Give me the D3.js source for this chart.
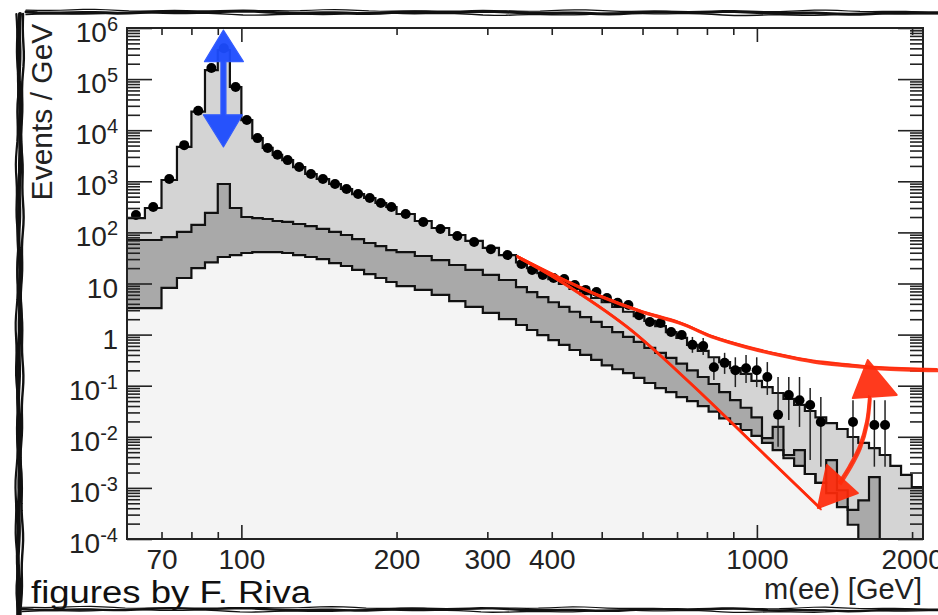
<!DOCTYPE html>
<html>
<head>
<meta charset="utf-8">
<script src="https://cdn.jsdelivr.net/npm/d3@7"></script>
<style>
  body { margin: 0; background: #fff; }
  svg { display: block; font-family: "Liberation Sans", Arial, Helvetica, sans-serif; }
</style>
</head>
<body>
<svg id="chart" width="938" height="615"></svg>
<script>
// m(ee) bin edges [GeV]
const binEdges = [60,65,70,75,80,85,90,95,100,105,110,115,120,
  126,133,140,148,156,164,173,182,191,200,
  217,234,253,272,294,316,341,
  358,375,394,413,433,454,477,500,524,550,577,605,635,666,698,732,768,806,845,887,
  930,976,1023,1073,1126,1181,1239,1299,1363,1430,1500,1573,1650,1731,1815,1904,1997,2100];

// stacked backgrounds, Events / GeV (top of each layer)
const totalBkg = [191,300,1060,4700,23000,150000,370000,70000,15800,7000,4500,3300,
  2600,1900,1390,1110,885,707,563,471,376,314,
  229,167,122,89,68,50,36,
  26,20,16,12.2,9.8,7.8,6.2,5.2,4.3,3.5,2.8,2.3,1.85,1.47,1.12,0.86,0.63,0.48,0.36,0.29,
  0.22,0.17,0.124,0.094,0.072,0.055,0.042,0.032,0.024,0.0186,0.0142,0.0099,0.0076,0.0060,0.0044,0.0027,0.0018,0.00104];
const midBkg = [71,71,81,102,140,240,885,300,200,191,183,167,
  160,146,133,117,102,89,74,62,54,45,
  41,34.5,28.8,23,18.4,14.7,11.7,
  8.5,6.8,5.4,4.3,3.5,2.8,2.2,1.77,1.41,1.12,0.90,0.72,0.55,0.44,0.35,0.27,0.20,0.148,0.108,0.075,
  0.052,0.037,0.024,0.0094,0.0156,0.0044,0.0055,0.00187,0.00125,0.0035,0.0009,0.00037,0.00057,0.00163,0,0,0,0];
const lowBkg = [3.3,3.3,8.2,12.8,20,26,33,36,39.5,41,41,41,
  39.5,36,33,30,25,22,18.4,15.3,12.8,10.7,
  8.9,7.5,6.0,4.5,3.5,2.65,2.0,
  1.54,1.23,0.98,0.78,0.63,0.50,0.40,0.32,0.25,0.21,0.177,0.142,0.113,0.090,0.075,0.060,0.050,0.040,0.031,0.023,
  0.0178,0.0136,0.0104,0.0076,0.0055,0.0038,0.0027,0.00187,0.00125,0.00079,0.00042,0.00019,0,0,0,0,0,0];

// observed data
const dataVals = [219,314,1110,5100,24000,165000,400000,70000,15800,7000,4500,3300,
  2600,1900,1390,1110,885,707,563,471,376,314,
  229,160,117,85,65,47,36,
  24,18.4,14.7,12.8,12.2,9.3,7.5,6.8,5.2,4.2,3.8,2.4,1.77,1.69,1.12,0.98,0.63,0.60,0.23,0.28,
  0.20,0.22,0.20,0.148,0.027,0.066,0.052,0.042,0.0195,null,null,0.0195,null,0.017,0.017,null,null,null];
// visible error bars: bin index, upper and lower end
const errIdx = [45,46,47,48,49,50,51,52,53,54,55,56,57,60,62,63];
const errHi  = [0.90,0.86,0.36,0.44,0.36,0.40,0.36,0.29,0.148,0.148,0.148,0.090,0.060,0.052,0.052,0.052];
const errLo  = [0.44,0.40,0.13,0.17,0.094,0.113,0.094,0.066,0.0064,0.0213,0.0156,0.0035,0.0026,0.0040,0.0026,0.0026];

// axis ticks
const xLabelVals = [70,100,200,300,400,1000,2000];
const xMajorTicks = [100,1000];
const xMinorTicks = [70,80,90,200,300,400,500,600,700,800,900,2000];
const yTickVals = [1e-4,1e-3,1e-2,1e-1,1,10,1e2,1e3,1e4,1e5,1e6];
const yTickBase = ["10","10","10","10","1","10","10","10","10","10","10"];
const yTickSup  = ["-4","-3","-2","-1","","","2","3","4","5","6"];

// hand-drawn annotations (data coordinates)
const blueArrow = {m: 92.3, tip: 9.1e5, topBase: 2.2e5, botBase: 2.0e4, bottom: 4.7e3};
const redArc   = [[344,33],[415,12.8],[496,5.7],[593,2.9],[709,1.69],[822,0.90],[956,0.57],[1108,0.40],[1284,0.30],[1494,0.254],[1731,0.222],[2243,0.203]];
const redLine  = [[344,33],[415,11.2],[560,1.41],[742,0.113],[1013,0.0055],[1325,0.000405]];
const redCurve = [[1656,0.060],[1634,0.0186],[1584,0.0063],[1514,0.00256],[1448,0.00125]];
const redHeads = [
  [[1641,0.318],[1535,0.0574],[1867,0.0658]],
  [[1313,0.000405],[1367,0.0028],[1570,0.00079]]
];

const svg = d3.select("#chart");
const pL = 127, pR = 923, pT = 28, pB = 539;
const yMin = 1e-4;

const x = d3.scaleLog().domain([60, 2100]).range([pL, pR]);
const y = d3.scaleLog().domain([yMin, 1e6]).range([pB, pT]);

function steps(vals) {
  let pts = [];
  vals.forEach((v, i) => {
    let vv = Math.max(v, yMin);
    pts.push([binEdges[i], vv], [binEdges[i + 1], vv]);
  });
  return pts;
}

let area = d3.area().x(d => x(d[0])).y0(y(yMin)).y1(d => y(d[1]));
let line = d3.line().x(d => x(d[0])).y(d => y(d[1]));

let plot = svg.append("g");
[[totalBkg, "#d4d4d4"], [midBkg, "#a9a9a9"], [lowBkg, "#f4f4f4"]].forEach(s => {
  plot.append("path").attr("d", area(steps(s[0]))).attr("fill", s[1]);
});
[totalBkg, midBkg, lowBkg].forEach(s => {
  plot.append("path").attr("d", line(steps(s)))
    .attr("fill", "none").attr("stroke", "#111").attr("stroke-width", 2.2)
    .attr("stroke-linejoin", "miter");
});

// error bars + points
let centre = i => Math.sqrt(binEdges[i] * binEdges[i + 1]);
plot.selectAll(".err").data(errIdx).enter().append("line")
  .attr("x1", d => x(centre(d))).attr("x2", d => x(centre(d)))
  .attr("y1", (d, k) => y(errHi[k])).attr("y2", (d, k) => y(errLo[k]))
  .attr("stroke", "#222").attr("stroke-width", 1.5);
plot.selectAll(".pt").data(dataVals.map((v, i) => [i, v]).filter(d => d[1] != null)).enter()
  .append("circle")
  .attr("cx", d => x(centre(d[0]))).attr("cy", d => y(d[1])).attr("r", 5)
  .attr("fill", "#000");

// frame and ticks
let axes = svg.append("g");
function tickAxis(axis, tr, vals, size) {
  let g = axes.append("g").attr("transform", tr)
    .call(axis.tickValues(vals).tickSize(size).tickFormat(""));
  g.select(".domain").remove();
  g.selectAll("line").attr("stroke", "#222").attr("stroke-width", 1.6);
}
let yMinor = [];
for (let k = -4; k < 6; k++) for (let j = 2; j <= 9; j++) yMinor.push(j * Math.pow(10, k));
tickAxis(d3.axisLeft(y), `translate(${pL},0)`, yTickVals, -25);
tickAxis(d3.axisLeft(y), `translate(${pL},0)`, yMinor, -13);
tickAxis(d3.axisRight(y), `translate(${pR},0)`, yTickVals, -25);
tickAxis(d3.axisRight(y), `translate(${pR},0)`, yMinor, -13);
tickAxis(d3.axisBottom(x), `translate(0,${pB})`, xMajorTicks, -14);
tickAxis(d3.axisBottom(x), `translate(0,${pB})`, xMinorTicks, -7);
tickAxis(d3.axisTop(x), `translate(0,${pT})`, xMajorTicks, -14);
tickAxis(d3.axisTop(x), `translate(0,${pT})`, xMinorTicks, -7);
axes.append("rect").attr("x", pL).attr("y", pT)
  .attr("width", pR - pL).attr("height", pB - pT)
  .attr("fill", "none").attr("stroke", "#222").attr("stroke-width", 2);

// tick labels
let xl = axes.append("g").attr("transform", `translate(0,${pB})`)
  .call(d3.axisBottom(x).tickValues(xLabelVals).tickFormat(d3.format("d")).tickSize(0).tickPadding(10));
xl.select(".domain").remove();
xl.selectAll("text").attr("font-size", 28).attr("fill", "#222")
  .attr("font-family", "'Liberation Sans', Arial, sans-serif");

let yl = axes.selectAll(".ylab").data(yTickVals).enter().append("text")
  .attr("x", 118).attr("y", d => y(d) + 14)
  .attr("text-anchor", "end").attr("font-size", 28).attr("fill", "#222");
yl.append("tspan").text((d, i) => yTickBase[i]);
yl.append("tspan").attr("font-size", 20).attr("dy", -11).text((d, i) => yTickSup[i]);

// axis titles
svg.append("text").attr("transform", "translate(52,112) rotate(-90)")
  .attr("text-anchor", "middle").attr("font-size", 30).attr("fill", "#222")
  .text("Events / GeV");
svg.append("text").attr("x", 922).attr("y", 599).attr("text-anchor", "end")
  .attr("font-size", 29).attr("fill", "#222").text("m(ee) [GeV]");

// blue double arrow
let bx = x(blueArrow.m);
let yt = y(blueArrow.tip), ytb = y(blueArrow.topBase), ybb = y(blueArrow.botBase), yb = y(blueArrow.bottom);
svg.append("path")
  .attr("d", `M${bx},${yt}L${bx + 20},${ytb}L${bx + 2.5},${ytb}L${bx + 2.5},${ybb}L${bx + 19},${ybb}` +
    `L${bx},${yb}L${bx - 20},${ybb}L${bx - 2.5},${ybb}L${bx - 2.5},${ytb}L${bx - 19},${ytb}Z`)
  .attr("fill", "#1d4cff").attr("stroke", "#2a55ff").attr("stroke-width", 1.2)
  .attr("stroke-linejoin", "round").attr("opacity", 0.95);

// red hand-drawn arrows
let red = "#ff2a0a";
let curve = d3.line().x(d => x(d[0])).y(d => y(d[1])).curve(d3.curveCatmullRom);
let passes = [[0, 0, 2.8], [1.2, 1.6, 1.6], [-1.1, -1.3, 1.4], [0.5, -0.6, 1.2]];
[redArc, redLine, redCurve].forEach(p => {
  passes.forEach(o => {
    svg.append("path").attr("d", curve(p)).attr("transform", `translate(${o[0]},${o[1]})`)
      .attr("fill", "none").attr("stroke", red).attr("stroke-width", o[2])
      .attr("stroke-linecap", "round").attr("opacity", 0.88);
  });
});
redHeads.forEach(h => {
  svg.append("path").attr("d", line(h) + "Z").attr("fill", red)
    .attr("stroke", red).attr("stroke-width", 2).attr("stroke-linejoin", "round").attr("opacity", 0.92);
});

// sketchy outer frame
let border = svg.append("g");
function sketchLine(x1, y1, x2, y2, strokes) {
  let dx = x2 - x1, dy = y2 - y1, len = Math.hypot(dx, dy);
  let nx = -dy / len, ny = dx / len;
  strokes.forEach((s, k) => {
    let pts = d3.range(81).map(i => {
      let t = i / 80;
      let w = s[0] + Math.sin(t * 23 + k * 1.7) * 0.9 + Math.sin(t * 71 + k * 2.9) * 0.5;
      return [x1 + dx * t + nx * w, y1 + dy * t + ny * w];
    });
    border.append("path").attr("d", d3.line()(pts)).attr("fill", "none")
      .attr("stroke", "#111").attr("stroke-width", s[1]).attr("stroke-linecap", "round");
  });
}
sketchLine(26, 12, 940, 13, [[0, 3], [1.6, 1.4], [-1.4, 1.2]]);
sketchLine(20, 14, 19, 616, [[0, 4], [2.6, 2.2], [-2.6, 2.4], [1.2, 2]]);
sketchLine(22, 609, 940, 610, [[0, 2.4], [1.5, 1.3], [-1.3, 1.2]]);

svg.append("text").attr("x", 31).attr("y", 603).attr("font-size", 31).attr("fill", "#111")
  .attr("textLength", 280).attr("lengthAdjust", "spacingAndGlyphs")
  .text("figures by F. Riva");
</script>
</body>
</html>
